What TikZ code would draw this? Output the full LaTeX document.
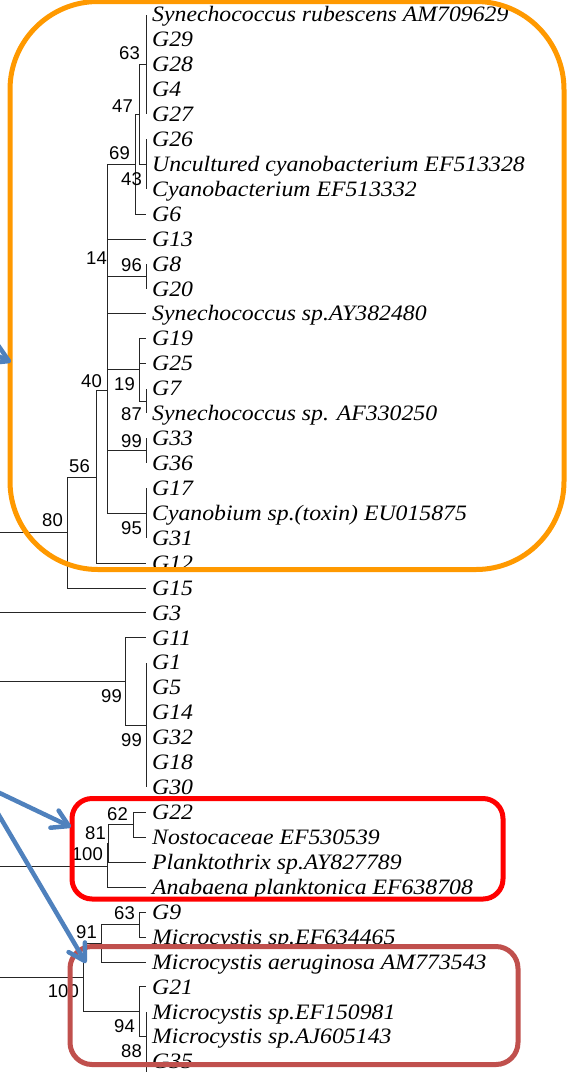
\documentclass[tikz,border=0pt]{standalone}
\usepackage{fontspec}
\setmainfont{Liberation Serif}
\newfontfamily\leaffont[FakeStretch=1.08]{Liberation Serif}
\newfontfamily\labfont{Liberation Sans}
\usetikzlibrary{arrows.meta}
\definecolor{boxorange}{HTML}{FF9900}
\definecolor{boxred}{HTML}{FF0000}
\definecolor{boxbrown}{HTML}{C0504D}
\definecolor{arrowblue}{HTML}{4F81BD}
\begin{document}
\begin{tikzpicture}[x=1pt,y=-1pt,
  branch/.style={line width=0.9pt, black!85},
  leaf/.style={font=\leaffont\fontsize{22}{24}\selectfont\itshape, anchor=base west, inner sep=0pt},
  boot/.style={font=\labfont\fontsize{18.5}{22}\selectfont, anchor=east, inner sep=0pt},
  cladebox/.style={line width=5pt},
  pointer/.style={arrowblue, line width=4.5pt, line cap=round, line join=round,
    -{Straight Barb[length=16pt,width=19pt,line join=round,line cap=round]}}
]
\useasboundingbox (0,0) rectangle (567,1072);
\clip (0,0) rectangle (567,1072);

% leaf tips, evenly spaced
\foreach \i in {1,...,44} \coordinate (L\i) at (146, {14.6+(\i-1)*24.93});

% internal nodes
\coordinate (n63)   at (146, 64.5);
\coordinate (n43)   at (146, 164.2);
\coordinate (n47)   at (139, 114.3);
\coordinate (n69)   at (135, 164.2);
\coordinate (n96)   at (146, 276.4);
\coordinate (n14)   at (107, 257);
\coordinate (n87)   at (146, 401);
\coordinate (n19)   at (139, 369);
\coordinate (n99a)  at (146, 450.9);
\coordinate (n95)   at (146, 513.2);
\coordinate (n40)   at (107, 390);
\coordinate (n56)   at (96, 477);
\coordinate (n80)   at (67, 532);
\coordinate (n99c)  at (146, 725.1);
\coordinate (n99b)  at (125, 681.4);
\coordinate (n62)   at (133, 824.8);
\coordinate (n81)   at (108, 843.5);
\coordinate (n100r) at (107, 866);
\coordinate (n63b)  at (139, 924.5);
\coordinate (n91)   at (101, 943.2);
\coordinate (n88)   at (146, 1036.7);
\coordinate (n94)   at (139, 1011.8);
\coordinate (n100b) at (83, 977.5);
\coordinate (root)  at (-10, 700);

% branches
\foreach \p/\cs in {n63/{L1,L2,L3,L4,L5}, n43/{L6,L7,L8}, n47/{n63,n43}, n69/{n47,L9},
    n96/{L11,L12}, n14/{n69,L10,n96,L13}, n87/{L16,L17}, n19/{L14,L15,n87},
    n99a/{L18,L19}, n95/{L20,L21,L22}, n40/{n14,n19,n99a,n95}, n56/{n40,L23},
    n80/{n56,L24}, n99c/{L27,L28,L29,L30,L31,L32}, n99b/{L26,n99c},
    n62/{L33,L34}, n81/{n62,L35}, n100r/{n81,L36}, n63b/{L37,L38}, n91/{n63b,L39},
    n88/{L41,L42,L43,L44}, n94/{L40,n88}, n100b/{n91,n94},
    root/{n80,L25,n99b,n100r,n100b}}
  \foreach \c in \cs \draw[branch] (\p) |- (\c);

% leaf names
\foreach \i/\lbl in {1/{Synechococcus rubescens AM709629}, 2/G29, 3/G28, 4/G4, 5/G27, 6/G26,
    7/{Uncultured cyanobacterium EF513328}, 8/{Cyanobacterium EF513332}, 9/G6, 10/G13,
    11/G8, 12/G20, 13/{Synechococcus sp.AY382480}, 14/G19, 15/G25, 16/G7,
    17/{Synechococcus sp. AF330250}, 18/G33, 19/G36, 20/G17,
    21/{Cyanobium sp.(toxin) EU015875}, 22/G31, 23/G12, 24/G15, 25/G3, 26/G11,
    27/G1, 28/G5, 29/G14, 30/G32, 31/G18, 32/G30, 33/G22, 34/{Nostocaceae EF530539},
    35/{Planktothrix sp.AY827789}, 36/{Anabaena planktonica EF638708}, 37/G9,
    38/{Microcystis sp.EF634465}, 39/{Microcystis aeruginosa AM773543}, 40/G21,
    41/{Microcystis sp.EF150981}, 42/{Microcystis sp.AJ605143}, 43/G35}
  \node[leaf] (t\i) at ([xshift=6pt,yshift=-7.2pt]L\i) {\lbl};

% bootstrap values
\node[boot] (b63a)  at (140,53.5)   {63};
\node[boot] (b47)   at (133,106)    {47};
\node[boot] (b69)   at (130,153.5)  {69};
\node[boot] (b43)   at (142,179.5)  {43};
\node[boot] (b14)   at (107,258)    {14};
\node[boot] (b96)   at (142,265)    {96};
\node[boot] (b40)   at (102,381)    {40};
\node[boot] (b19)   at (135,384.5)  {19};
\node[boot] (b87)   at (142,414.5)  {87};
\node[boot] (b99a)  at (142,441.5)  {99};
\node[boot] (b56)   at (90,466.5)   {56};
\node[boot] (b95)   at (142,528.5)  {95};
\node[boot] (b80)   at (63,520.5)   {80};
\node[boot] (b99b)  at (122,696.5)  {99};
\node[boot] (b99c)  at (142,740)    {99};
\node[boot] (b62)   at (128,814)    {62};
\node[boot] (b81)   at (106,833.5)  {81};
\node[boot] (b100r) at (103,854.5)  {100};
\node[boot] (b63b)  at (135,913.5)  {63};
\node[boot] (b91)   at (97,932)     {91};
\node[boot] (b100b) at (79,991.5)   {100};
\node[boot] (b94)   at (135,1026.5) {94};
\node[boot] (b88)   at (142,1051.5) {88};

% highlighted clades
\draw[cladebox, boxorange, rounded corners=88pt] (10,1.5) rectangle (564,569.5);
\draw[cladebox, boxred, rounded corners=20pt] (72,798.5) rectangle (503,899);
\draw[cladebox, boxbrown, rounded corners=22pt] (70,946.5) rectangle (518,1064.5);

% pointers
\coordinate (a1s) at (-80,320);  \coordinate (a1e) at (11,362);
\coordinate (a2s) at (-15,786);  \coordinate (a2e) at (71,827);
\coordinate (a3s) at (-10,800);  \coordinate (a3e) at (86,963);
\draw[pointer] (a1s) -- (a1e);
\draw[pointer] (a2s) -- (a2e);
\draw[pointer] (a3s) -- (a3e);
\end{tikzpicture}
\end{document}
